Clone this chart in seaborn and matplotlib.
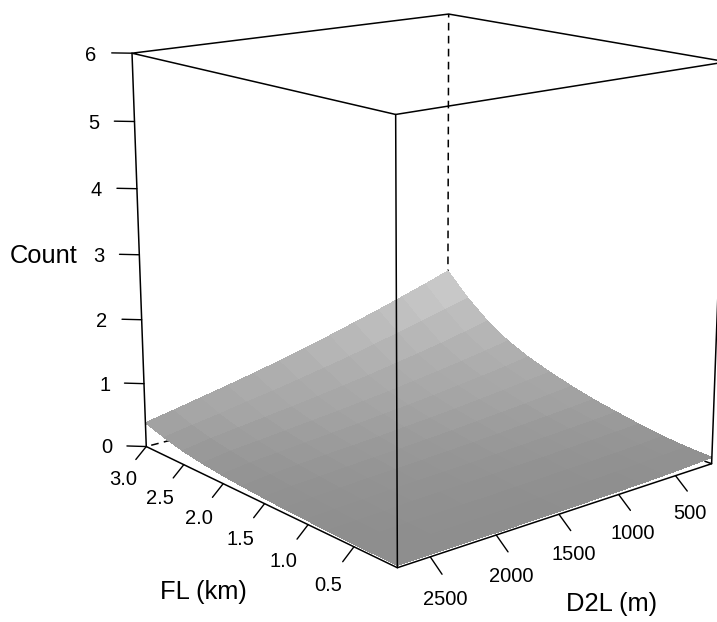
import numpy as np
import matplotlib
matplotlib.use("Agg")
import matplotlib.pyplot as plt
import seaborn as sns

# values
fl_km = [0.05, 0.30, 0.54, 0.79, 1.03, 1.28, 1.52, 1.77, 2.02, 2.26, 2.51, 2.75, 3.00]
d2l_m = [170, 384, 598, 812, 1027, 1241, 1455, 1669, 1883, 2098, 2312, 2526, 2740]
count = [
    [.10, .08, .065, .055, .05, .045, .04, .04, .035, .035, .035, .035, .035],
    [.12, .105, .09, .08, .07, .065, .06, .055, .05, .045, .04, .04, .035],
    [.155, .135, .12, .11, .10, .09, .08, .07, .065, .06, .055, .05, .04],
    [.212, .196, .18, .164, .148, .138, .122, .111, .10, .09, .07, .06, .045],
    [.278, .251, .23, .209, .193, .171, .155, .139, .128, .112, .09, .075, .055],
    [.351, .319, .292, .265, .238, .216, .194, .173, .157, .14, .115, .095, .065],
    [.443, .405, .367, .335, .302, .27, .243, .216, .194, .173, .145, .12, .08],
    [.551, .504, .456, .413, .371, .334, .302, .265, .239, .212, .18, .15, .10],
    [.68, .618, .561, .51, .458, .412, .371, .33, .294, .258, .22, .185, .125],
    [.835, .76, .69, .625, .565, .505, .455, .405, .36, .315, .27, .23, .16],
    [1.06, .96, .87, .79, .715, .64, .575, .51, .45, .395, .34, .285, .21],
    [1.34, 1.235, 1.125, 1.025, .93, .83, .745, .66, .58, .51, .43, .36, .285],
    [1.70, 1.56, 1.43, 1.30, 1.18, 1.06, .95, .84, .74, .645, .555, .465, .38],
]
fl_ticks = [0.5, 1.0, 1.5, 2.0, 2.5, 3.0]
fl_labels = ["0.5", "1.0", "1.5", "2.0", "2.5", "3.0"]
d2l_ticks = [500, 1000, 1500, 2000, 2500]
z_ticks = [0, 1, 2, 3, 4, 5, 6]

shade_levels = [0.0, 0.1, 0.4, 1.7]
shade_pos = [0.0, 0.08, 0.35, 1.0]

sns.set_theme(style="white")
plt.rcParams["font.family"] = ["Liberation Sans", "DejaVu Sans"]

fig = plt.figure(figsize=(7.17, 6.22), dpi=100)
W, H = 717, 622
ax = fig.add_axes([-21 / W, -86 / H, 870 / W, 870 / H], projection="3d", computed_zorder=False)
ax.set_axis_off()
ax.patch.set_alpha(0)
ax.set_box_aspect((1, 1, 1), zoom=0.795)
ax.view_init(elev=15, azim=140)
ax.set_proj_type("persp", focal_length=0.45)

x0, x1 = fl_km[0], fl_km[-1]
y0, y1 = d2l_m[0], d2l_m[-1]
z0, z1 = 0, 6
ax.set_xlim(x0, x1)
ax.set_ylim(y0, y1)
ax.set_zlim(z0, z1)
dx, dy, dz = x1 - x0, y1 - y0, z1 - z0

X, Y = np.meshgrid(fl_km, d2l_m, indexing="ij")
Z = np.array(count)
cmap = sns.blend_palette(["#8c8c8c", "#d0d0d0"], as_cmap=True)
# each facet takes the mean height of its four corners
Zc = Z.copy()
Zc[:-1, :-1] = (Z[:-1, :-1] + Z[1:, :-1] + Z[:-1, 1:] + Z[1:, 1:]) / 4
colors = cmap(np.interp(Zc, shade_levels, shade_pos))
ax.plot_surface(X, Y, Z, facecolors=colors, shade=False, linewidth=0,
                antialiased=False, rcount=len(fl_km), ccount=len(d2l_m), zorder=2)

line = dict(color="black", lw=1.1, zorder=3, solid_capstyle="round")
dash = dict(color="black", lw=1.1, zorder=1, linestyle=(0, (5, 3.5)))

# back (hidden) edges
ax.plot([x1, x1], [y0, y0], [z0, z1], **dash)
ax.plot([x1, x1], [y0, y1], [z0, z0], **dash)
ax.plot([x0, x1], [y0, y0], [z0, z0], **dash)
# top frame
ax.plot([x0, x1, x1, x0, x0], [y0, y0, y1, y1, y0], [z1] * 5, **line)
# visible verticals
for xv, yv in [(x0, y0), (x1, y1), (x0, y1)]:
    ax.plot([xv, xv], [yv, yv], [z0, z1], **line)
# near bottom edges
ax.plot([x1, x0, x0], [y1, y1, y0], [z0, z0, z0], **line)

tick_kw = dict(color="black", lw=1.0, zorder=3)
txt = dict(ha="center", va="center", color="black", fontsize=14.5, zorder=4, clip_on=False)

for v, lab in zip(fl_ticks, fl_labels):
    ax.plot([v, v], [y1, y1 + 0.032 * dy], [z0, z0 - 0.027 * dz], **tick_kw)
    ax.text(v, y1 + 0.072 * dy, z0 - 0.072 * dz, lab, **txt)
for v in d2l_ticks:
    ax.plot([x0, x0 - 0.04 * dx], [v, v], [z0, z0 - 0.028 * dz], **tick_kw)
    ax.text(x0 - 0.05 * dx, v, z0 - 0.084 * dz, str(v), **txt)
for v in z_ticks:
    ax.plot([x1, x1 + 0.035 * dx], [y1, y1 + 0.035 * dy], [v, v], **tick_kw)
    ax.text(x1 + 0.071 * dx, y1 + 0.071 * dy, v - 0.04, str(v), **txt)

lab = dict(ha="center", va="center", color="black", fontsize=18.4, zorder=4, clip_on=False)
ax.text(1.5, y1 + 0.178 * dy, z0 - 0.172 * dz, "FL (km)", **lab)
ax.text(x0 - 0.16 * dx, 1455, z0 - 0.175 * dz, "D2L (m)", **lab)
ax.text(x1 + 0.17 * dx, y1 + 0.17 * dy, 2.95, "Count", **lab)

fig.savefig("out.png", dpi=100, facecolor="white")
